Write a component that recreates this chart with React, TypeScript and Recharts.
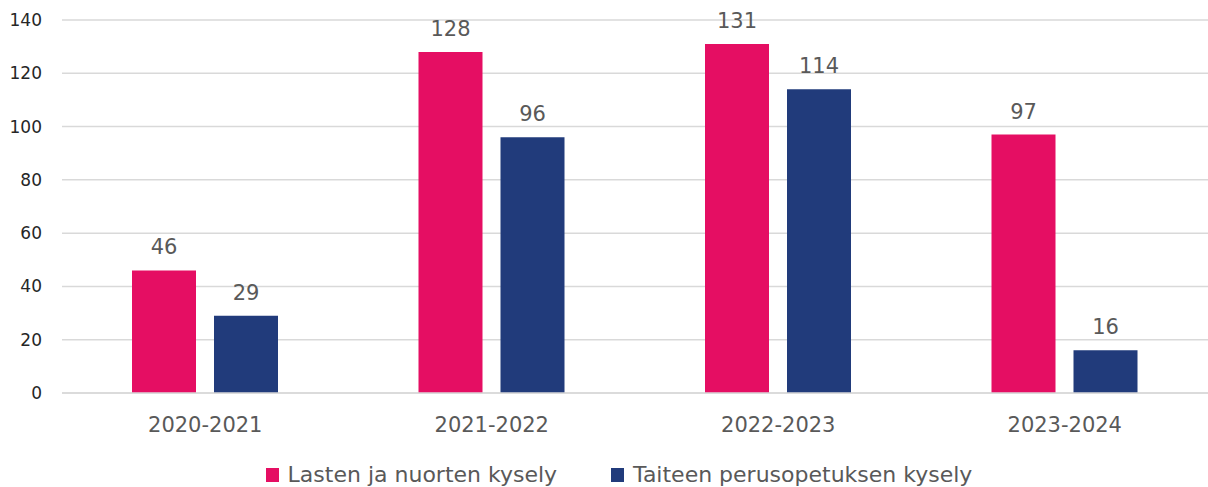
import React from 'react';
import { BarChart, Bar, XAxis, YAxis, CartesianGrid, LabelList, Legend } from 'recharts';

const categories = ['2020-2021', '2021-2022', '2022-2023', '2023-2024'];
const lastenValues = [46, 128, 131, 97];
const taiteenValues = [29, 96, 114, 16];
const yTicks = [0, 20, 40, 60, 80, 100, 120, 140];

const SERIES = [
  { key: 'lasten', name: 'Lasten ja nuorten kysely', color: '#E50E63' },
  { key: 'taiteen', name: 'Taiteen perusopetuksen kysely', color: '#213B7B' },
];

const data = categories.map((c, i) => ({
  name: c,
  lasten: lastenValues[i],
  taiteen: taiteenValues[i],
}));

const FONT = '"DejaVu Sans", sans-serif';

// custom legend so the square markers and spacing match the original
const renderLegend = () => (
  <div
    style={{
      display: 'flex',
      justifyContent: 'center',
      fontFamily: FONT,
      fontSize: 22,
      color: '#595959',
      lineHeight: '26px',
      paddingTop: 11,
      paddingLeft: 30,
    }}
  >
    {SERIES.map((s, i) => (
      <div key={s.key} style={{ display: 'flex', alignItems: 'center', marginLeft: i > 0 ? 54 : 0 }}>
        <span style={{ width: 13, height: 14, background: s.color, display: 'inline-block', marginRight: 9 }} />
        <span>{s.name}</span>
      </div>
    ))}
  </div>
);

export default function App() {
  return (
    <div style={{ position: 'absolute', left: 0, top: 0, width: 1208, height: 487, background: '#fff' }}>
      <BarChart
        width={1208}
        height={487}
        data={data}
        margin={{ top: 20, right: 0, left: 0, bottom: 0 }}
        barGap={18}
        barSize={64}
      >
        <CartesianGrid vertical={false} stroke="#D9D9D9" strokeWidth={1.5} />
        <XAxis
          dataKey="name"
          axisLine={{ stroke: '#D9D9D9', strokeWidth: 1.5 }}
          tickLine={false}
          tick={{ fill: '#595959', fontSize: 21, fontFamily: FONT }}
          tickMargin={18}
          height={58}
        />
        <YAxis
          domain={[0, 140]}
          ticks={yTicks}
          axisLine={false}
          tickLine={false}
          tick={{ fill: '#262626', fontSize: 17, fontFamily: FONT }}
          tickMargin={14}
          width={62}
        />
        <Legend content={renderLegend} verticalAlign="bottom" wrapperStyle={{ height: 36 }} />
        {SERIES.map((s) => (
          <Bar key={s.key} dataKey={s.key} name={s.name} fill={s.color} isAnimationActive={false}>
            <LabelList
              dataKey={s.key}
              position="top"
              offset={16}
              style={{ fill: '#595959', fontSize: 21, fontFamily: FONT }}
            />
          </Bar>
        ))}
      </BarChart>
    </div>
  );
}
